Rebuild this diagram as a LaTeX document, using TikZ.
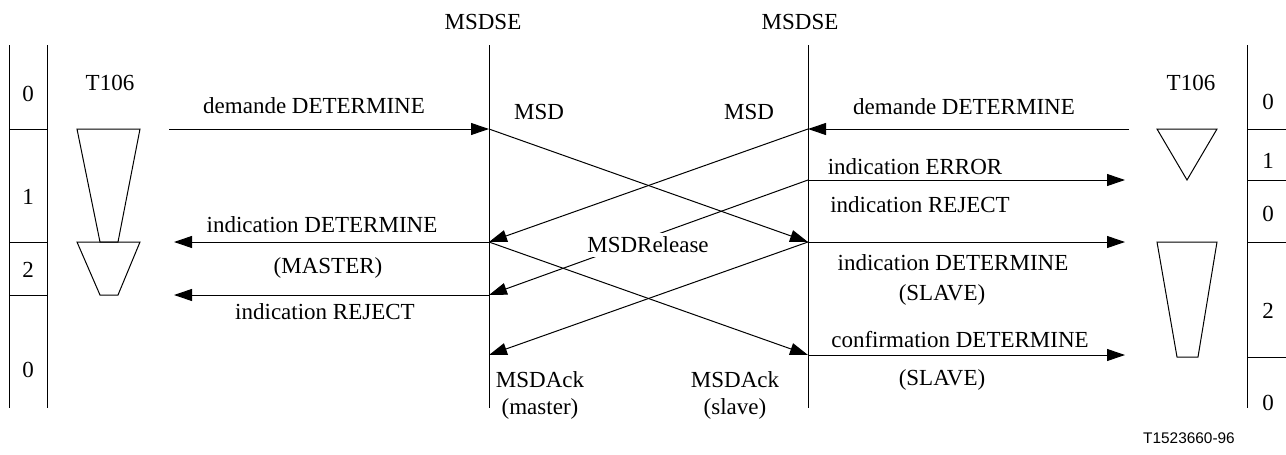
\documentclass[tikz,border=0pt]{standalone}
\usepackage{fontspec}
\setmainfont{Liberation Serif}
\newfontfamily\refffont{Liberation Sans}
\usetikzlibrary{positioning, arrows.meta, calc}

\begin{document}
\begin{tikzpicture}[x=0.5pt, y=-0.5pt, line width=0.5pt, >={Triangle[length=9pt, width=6pt]},
    font=\fontsize{11.5}{13.5}\selectfont,
    txt/.style={inner sep=1pt},
    msg/.style={->},
    timer/.style={draw, line join=miter}]
    \useasboundingbox (0,0) rectangle (1286,455);

    % Entities
    \node[txt] (seA) at (483,22) {MSDSE};
    \node[txt] (seB) at (800,22) {MSDSE};
    \coordinate (topA) at (489,45);  \coordinate (botA) at (489,408);
    \coordinate (topB) at (808,45);  \coordinate (botB) at (808,408);
    \draw (topA) -- (botA);
    \draw (topB) -- (botB);

    % Points on the lifelines
    \coordinate (a0) at (489,129); \coordinate (a2) at (489,242);
    \coordinate (a3) at (489,295); \coordinate (a4) at (489,355);
    \coordinate (b0) at (808,129); \coordinate (b1) at (808,180);
    \coordinate (b2) at (808,242); \coordinate (b4) at (808,355);

    % Free ends (users)
    \coordinate (ua0) at (169,129); \coordinate (ua2) at (174,242);
    \coordinate (ua3) at (174,295);
    \coordinate (ub0) at (1129,129); \coordinate (ub1) at (1125,180);
    \coordinate (ub2) at (1125,242); \coordinate (ub4) at (1125,355);

    % Left state column
    \draw (9,45) -- (9,408);
    \draw (47,45) -- (47,408);
    \draw (9,129) -- (47,129);
    \draw (9,242) -- (47,242);
    \draw (9,295) -- (47,295);
    \node[txt] (stA0) at (28,94) {0};
    \node[txt] (stA1) at (28,197) {1};
    \node[txt] (stA2) at (28,270) {2};
    \node[txt] (stA3) at (28,370) {0};

    % Right state column
    \draw (1247,45) -- (1247,408);
    \draw (1247,129) -- (1286,129);
    \draw (1247,180) -- (1286,180);
    \draw (1247,242) -- (1286,242);
    \draw (1247,357) -- (1286,357);
    \node[txt] (stB0) at (1268,102) {0};
    \node[txt] (stB1) at (1268,161) {1};
    \node[txt] (stB2) at (1268,214) {0};
    \node[txt] (stB3) at (1268,311) {2};
    \node[txt] (stB4) at (1268,403) {0};

    % Timers T106
    \node[txt] (tA) at (110,83) {T106};
    \node[txt] (tB) at (1191,83) {T106};
    \draw[timer] (77,129) -- (140,129) -- (118,242) -- (100,242) -- cycle;
    \draw[timer] (77,242) -- (140,242) -- (118,295) -- (100,295) -- cycle;
    \draw[timer] (1157,129) -- (1217,129) -- (1187,180) -- cycle;
    \draw[timer] (1157,242) -- (1217,242) -- (1198,357) -- (1177,357) -- cycle;

    % Primitives, left side
    \draw[msg] (ua0) -- (a0);
    \draw[msg] (a2) -- (ua2);
    \draw[msg] (a3) -- (ua3);
    \node[txt] (reqA) at (314,106) {demande DETERMINE};
    \node[txt] (indA) at (322,225) {indication DETERMINE};
    \node[txt] (mstA) at (328,268) {(MASTER)};
    \node[txt] (rejA) at (325,312) {indication REJECT};

    % Primitives, right side
    \draw[msg] (ub0) -- (b0);
    \draw[msg] (b1) -- (ub1);
    \draw[msg] (b2) -- (ub2);
    \draw[msg] (b4) -- (ub4);
    \node[txt] (reqB) at (964,107) {demande DETERMINE};
    \node[txt] (errB) at (915,167) {indication ERROR};
    \node[txt] (rejB) at (920,205) {indication REJECT};
    \node[txt] (indB) at (953,263) {indication DETERMINE};
    \node[txt] (slvB) at (942,295) {(SLAVE)};
    \node[txt] (cnfB) at (960,340) {confirmation DETERMINE};
    \node[txt] (slvC) at (942,380) {(SLAVE)};

    % Protocol messages
    \draw[msg] (a0) -- (b2);
    \draw[msg] (b0) -- (a2);
    \draw[msg] (b1) -- (a3);
    \draw[msg] (b2) -- (a4);
    \draw[msg] (a2) -- (b4);
    \node[txt] (msdA) at (539,112) {MSD};
    \node[txt] (msdB) at (749,112) {MSD};
    \node[txt, fill=white, inner sep=2pt] (rel) at (648,245) {MSDRelease};
    \node[txt, align=center] (ackA) at (540,395) {MSDAck\\(master)};
    \node[txt, align=center] (ackB) at (735,395) {MSDAck\\(slave)};

    \node[txt, font=\refffont\fontsize{7.7}{9}\selectfont] (ref) at (1189,438) {T1523660-96};
\end{tikzpicture}
\end{document}
